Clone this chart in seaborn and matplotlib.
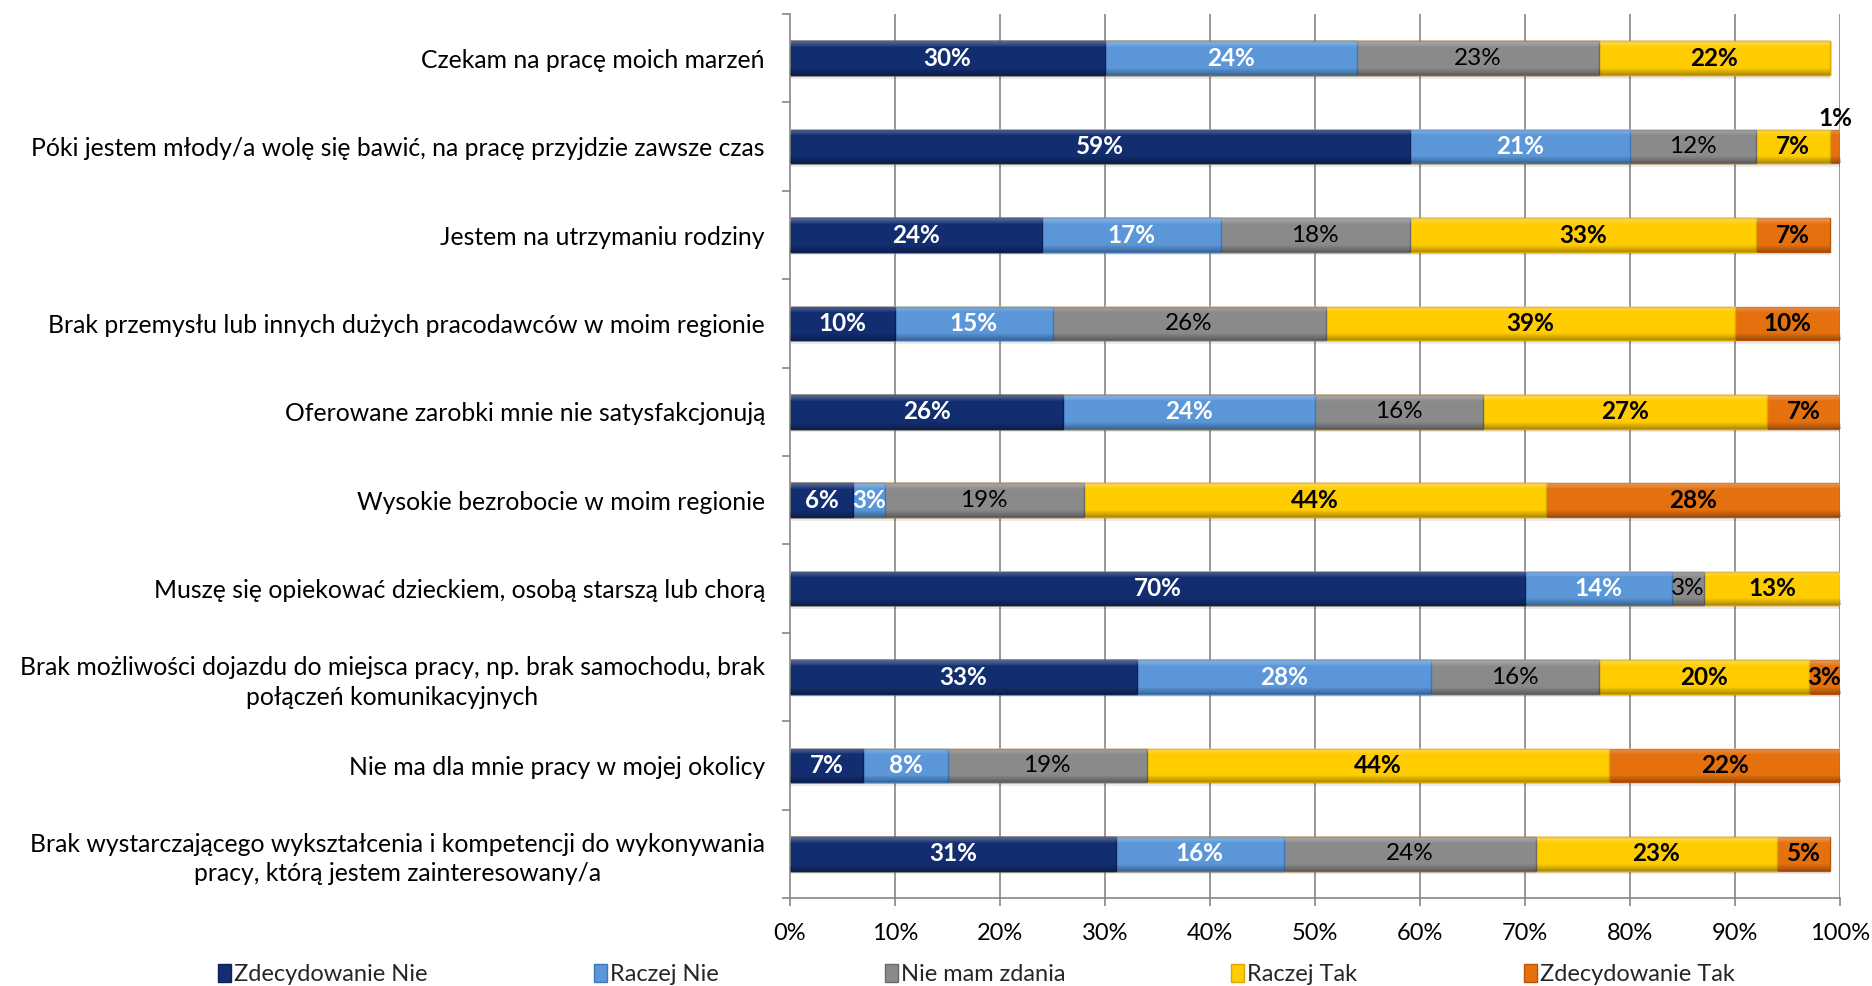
import matplotlib
matplotlib.use("Agg")
import matplotlib.pyplot as plt
import seaborn as sns
import numpy as np
import pandas as pd
from matplotlib.patches import Patch

categories = [
    "Czekam na pracę moich marzeń",
    "Póki jestem młody/a wolę się bawić, na pracę przyjdzie zawsze czas",
    "Jestem na utrzymaniu rodziny",
    "Brak przemysłu lub innych dużych pracodawców w moim regionie",
    "Oferowane zarobki mnie nie satysfakcjonują",
    "Wysokie bezrobocie w moim regionie",
    "Muszę się opiekować dzieckiem, osobą starszą lub chorą",
    "Brak możliwości dojazdu do miejsca pracy, np. brak samochodu, brak\npołączeń komunikacyjnych",
    "Nie ma dla mnie pracy w mojej okolicy",
    "Brak wystarczającego wykształcenia i kompetencji do wykonywania\npracy, którą jestem zainteresowany/a",
]

series_names = ["Zdecydowanie Nie", "Raczej Nie", "Nie mam zdania", "Raczej Tak", "Zdecydowanie Tak"]

zdecydowanie_nie = [30, 59, 24, 10, 26, 6, 70, 33, 7, 31]
raczej_nie       = [24, 21, 17, 15, 24, 3, 14, 28, 8, 16]
nie_mam_zdania   = [23, 12, 18, 26, 16, 19, 3, 16, 19, 24]
raczej_tak       = [22, 7, 33, 39, 27, 44, 13, 20, 44, 23]
zdecydowanie_tak = [0, 1, 7, 10, 7, 28, 0, 3, 22, 5]

x_ticks = [0, 10, 20, 30, 40, 50, 60, 70, 80, 90, 100]
x_tick_labels = [f"{t}%" for t in x_ticks]

colors = ["#132E70", "#5A96D8", "#8A8A8A", "#FFCC00", "#E4700E"]
edge_colors = ["#0D2258", "#3F78B8", "#6A6A6A", "#D8A800", "#B9560A"]
label_colors = ["white", "white", "black", "black", "black"]
label_weights = ["bold", "bold", "normal", "bold", "bold"]

values = np.array([zdecydowanie_nie, raczej_nie, nie_mam_zdania, raczej_tak, zdecydowanie_tak])
cum = values.cumsum(axis=0)

FS = 17.5
BAR_W = 0.38

sns.set_theme(style="white")
plt.rcParams["font.family"] = ["Lato", "DejaVu Sans"]

fig = plt.figure(figsize=(18.72, 9.86), dpi=100)
ax = fig.add_axes([0.422, 0.0892, 0.561, 0.8966])

# vertical gridlines behind bars
for t in x_ticks[1:]:
    ax.axvline(t, color="#868686", lw=1.2, zorder=0)

# stacked bars: draw cumulative totals from the last series to the first
for i in range(len(series_names) - 1, -1, -1):
    df = pd.DataFrame({"cat": categories, "val": cum[i]})
    sns.barplot(data=df, y="cat", x="val", order=categories, orient="h",
                color=colors[i], saturation=1, width=BAR_W,
                edgecolor=edge_colors[i], linewidth=1.0, ax=ax, zorder=2)

# soft bevel shading over each bar: light top band, darker bottom band
grad = np.zeros((40, 2, 4))
t = np.linspace(0, 1, 40)
alpha = np.where(t < 0.18, 0.30 * (1 - t / 0.18), 0.0) + np.where(t > 0.80, 0.30 * (t - 0.80) / 0.20, 0.0)
grad[:, :, :3] = np.where(t < 0.5, 1.0, 0.0)[:, None, None]
grad[:, :, 3] = alpha[:, None]
for j in range(len(categories)):
    total = cum[-1, j]
    ax.imshow(grad, extent=[0, total, j + BAR_W / 2, j - BAR_W / 2], aspect="auto",
              interpolation="bilinear", zorder=3)
    # faint shadow under the bar
    ax.fill_between([0, total], j + BAR_W / 2, j + BAR_W / 2 + 0.04,
                    color="black", alpha=0.08, lw=0, zorder=1)

# segment labels
for i in range(len(series_names)):
    for j, cat in enumerate(categories):
        v = values[i, j]
        if v <= 0:
            continue
        if v <= 1:
            ax.text(cum[i, j] - v / 2, j - 0.19, f"{v}%", ha="center", va="bottom",
                    fontsize=FS, fontweight="bold", color="black", clip_on=False, zorder=5)
            continue
        ax.text(cum[i, j] - v / 2, j, f"{v}%", ha="center", va="center",
                fontsize=FS, fontweight=label_weights[i], color=label_colors[i], zorder=5)

ax.set_xlim(0, 100)
ax.set_ylim(len(categories) - 0.5, -0.5)
ax.set_xticks(x_ticks)
ax.set_xticklabels(x_tick_labels, fontsize=17)
ax.set_xlabel("")
ax.set_ylabel("")
ax.set_yticks(range(len(categories)))
ax.set_yticklabels(categories, fontsize=17.8, multialignment="center", linespacing=1.35)
ax.set_yticks(np.arange(-0.5, len(categories), 1.0), minor=True)

for s in ["top", "right"]:
    ax.spines[s].set_visible(False)
for s in ["left", "bottom"]:
    ax.spines[s].set_color("#868686")
    ax.spines[s].set_linewidth(1.2)

ax.tick_params(axis="y", which="major", length=0, pad=18, colors="black")
ax.tick_params(axis="y", which="minor", left=True, length=6, width=1.2, color="#868686")
ax.tick_params(axis="x", which="major", bottom=True, length=6, width=1.2, color="#868686",
               pad=12, labelcolor="black")

handles = [Patch(facecolor=c, edgecolor=e) for c, e in zip(colors, edge_colors)]
fig.legend(handles, series_names, loc="center", bbox_to_anchor=(0.5215, 0.012), ncol=5,
           frameon=False, fontsize=17, handlelength=0.55, handleheight=0.8,
           handletextpad=0.12, columnspacing=7.05)

fig.savefig("out.png", dpi=100)
